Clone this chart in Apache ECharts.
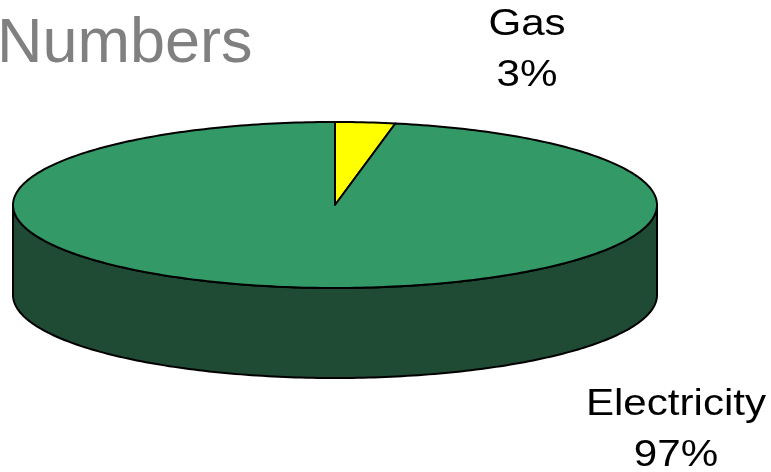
<!DOCTYPE html>
<html>
<head>
<meta charset="utf-8">
<style>
  html, body { margin: 0; padding: 0; background: #ffffff; }
  #chart { width: 771px; height: 472px; }
</style>
<script src="https://cdn.jsdelivr.net/npm/echarts@6/dist/echarts.min.js"></script>
</head>
<body>
<div id="chart"></div>
<script>
// Energy split by source
const categories = ['Gas', 'Electricity'];
const values = [3, 97];
const sliceColors = ['#ffff00', '#339966'];
const sideColors = ['#999900', '#1f4b35'];

// Layout of the tilted pie (pixels)
const PIE = { cx: 335, cy: 205, rx: 322, ry: 83, depth: 90 };
const LABEL_POS = [[527, 51], [676, 431]];
const FONT = "'Liberation Sans', Arial, sans-serif";

const total = values.reduce((a, b) => a + b, 0);
const starts = [];
let acc = 0;
values.forEach(v => { starts.push(acc / total * 360); acc += v; });

// angle measured clockwise from 12 o'clock, in degrees
function pt(deg, dy) {
  const r = deg * Math.PI / 180;
  return [PIE.cx + PIE.rx * Math.sin(r), PIE.cy - PIE.ry * Math.cos(r) + (dy || 0)];
}
function arc(a0, a1, dy) {
  const pts = [];
  const n = Math.max(2, Math.ceil(Math.abs(a1 - a0)));
  for (let i = 0; i <= n; i++) pts.push(pt(a0 + (a1 - a0) * i / n, dy));
  return pts;
}

function renderItem(params, api) {
  const i = params.dataIndex;
  const v = api.value(0);
  const a0 = starts[i];
  const a1 = a0 + v / total * 360;
  const children = [];
  const line = { stroke: '#000000', lineWidth: 2, lineJoin: 'round' };

  // front wall: only the part facing the viewer (90..270 degrees)
  const s0 = Math.max(a0, 90), s1 = Math.min(a1, 270);
  if (s0 < s1) {
    const wall = arc(s0, s1, 0).concat(arc(s1, s0, PIE.depth));
    children.push({
      type: 'polygon',
      shape: { points: wall },
      style: Object.assign({ fill: sideColors[i] }, line)
    });
  }

  // top face
  const top = [[PIE.cx, PIE.cy]].concat(arc(a0, a1, 0));
  children.push({
    type: 'polygon',
    shape: { points: top },
    style: Object.assign({ fill: sliceColors[i] }, line)
  });

  // label: name and share
  const pct = Math.round(v / total * 100) + '%';
  children.push({
    type: 'text',
    x: LABEL_POS[i][0],
    y: LABEL_POS[i][1],
    scaleX: 1.17,
    style: {
      text: categories[i] + '\n' + pct,
      x: 0, y: 0,
      fill: '#000000',
      fontSize: 36,
      fontFamily: FONT,
      lineHeight: 51,
      align: 'center',
      verticalAlign: 'middle'
    }
  });

  return { type: 'group', children: children };
}

const chart = echarts.init(document.getElementById('chart'), null, { renderer: 'canvas' });
chart.setOption({
  animation: false,
  backgroundColor: '#ffffff',
  title: {
    text: 'Numbers',
    left: -3,
    top: 13,
    padding: 0,
    textStyle: { fontSize: 63, fontWeight: 'normal', color: '#808080', fontFamily: FONT }
  },
  series: [{
    type: 'custom',
    coordinateSystem: 'none',
    renderItem: renderItem,
    data: values.map((v, i) => ({ name: categories[i], value: [v] }))
  }]
});
</script>
</body>
</html>
